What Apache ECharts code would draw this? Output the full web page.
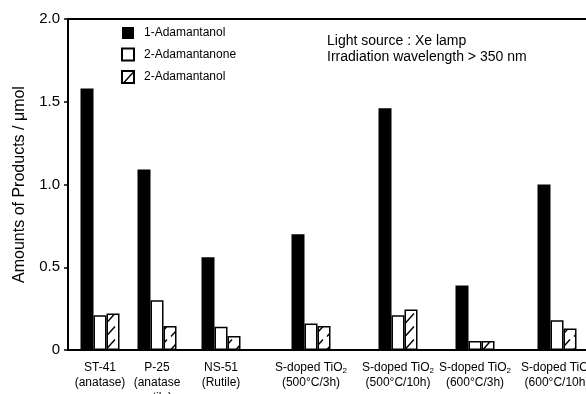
<!DOCTYPE html>
<html><head><meta charset="utf-8">
<script src="https://cdn.jsdelivr.net/npm/echarts@6/dist/echarts.min.js"></script>
<style>html,body{margin:0;padding:0;background:#fff}#c{width:586px;height:394px}</style>
</head><body><div id="c"></div>
<script>
// ---- data ----
const categories = [
  'ST-41\n(anatase)',
  'P-25\n(anatase\nrutile)',
  'NS-51\n(Rutile)',
  'S-doped TiO2\n(500°C/3h)',
  'S-doped TiO2\n(500°C/10h)',
  'S-doped TiO2\n(600°C/3h)',
  'S-doped TiO2\n(600°C/10h)'
];
const seriesNames = ['1-Adamantanol', '2-Adamantanone', '2-Adamantanol'];
const adamantanol1  = [1.58, 1.09, 0.56, 0.70, 1.46, 0.39, 1.00];
const adamantanone2 = [0.21, 0.30, 0.14, 0.16, 0.21, 0.055, 0.18];
const adamantanol2  = [0.22, 0.145, 0.085, 0.145, 0.245, 0.055, 0.13];
const yTicks = [0, 0.5, 1.0, 1.5, 2.0];
// position of each sample group along the (unlabelled) horizontal axis
const groupX = [32, 89, 153, 243, 330, 407, 489];

// ---- styles ----
const FONT = 'Liberation Sans';
function hatch() {
  const c = document.createElement('canvas');
  c.width = 13; c.height = 13;
  const g = c.getContext('2d');
  g.fillStyle = '#fff'; g.fillRect(0, 0, 13, 13);
  g.strokeStyle = '#000'; g.lineWidth = 1.4;
  g.beginPath(); g.moveTo(2, 11.5); g.lineTo(11, 1.5); g.stroke();
  return c;
}
const pairs = arr => arr.map((v, i) => [groupX[i], v]);

const chart = echarts.init(document.getElementById('c'), null, {renderer: 'canvas'});
chart.setOption({
  animation: false,
  backgroundColor: '#fff',
  textStyle: {fontFamily: FONT, color: '#000'},
  title: {
    text: 'Light source : Xe lamp\nIrradiation wavelength > 350 nm',
    left: 327, top: 33, padding: 0,
    textStyle: {fontFamily: FONT, fontSize: 14, fontWeight: 'normal', color: '#000', lineHeight: 16}
  },
  legend: {
    orient: 'vertical', left: 121, top: 27, padding: 0,
    itemWidth: 12, itemHeight: 12, itemGap: 8.5,
    icon: 'rect',
    textStyle: {fontFamily: FONT, fontSize: 12, color: '#000', lineHeight: 12, padding: [0, 0, 0, 5]},
    data: seriesNames
  },
  grid: {left: 68, width: 560, top: 19, height: 331, show: true, borderColor: '#000', borderWidth: 2,
         backgroundColor: 'transparent', containLabel: false, outerBoundsMode: 'none'},
  xAxis: {
    type: 'value', min: 0, max: 560,
    axisLine: {show: false}, axisTick: {show: false}, splitLine: {show: false},
    axisLabel: {
      customValues: groupX, margin: 10, fontFamily: FONT, fontSize: 12, lineHeight: 15, color: '#000',
      hideOverlap: false,
      formatter: v => {
        const i = groupX.indexOf(v);
        return i < 0 ? '' : categories[i].replace('TiO2', 'TiO{sub|2}');
      },
      rich: {sub: {fontSize: 8, lineHeight: 15, padding: [6, 0, 0, 0], fontFamily: FONT, color: '#000'}}
    }
  },
  yAxis: {
    type: 'value', min: 0, max: 2, interval: 0.5,
    name: 'Amounts of Products / μmol', nameLocation: 'middle', nameGap: 40,
    nameTextStyle: {fontFamily: FONT, fontSize: 16, color: '#000'},
    axisLine: {show: false},
    axisTick: {show: true, inside: false, length: 4, lineStyle: {color: '#000', width: 1.5}},
    splitLine: {show: false},
    axisLabel: {
      margin: 8, fontFamily: FONT, fontSize: 15, color: '#000',
      formatter: v => (yTicks.indexOf(v) >= 0 ? (v === 0 ? '0' : v.toFixed(1)) : '')
    }
  },
  series: [
    {name: seriesNames[0], type: 'bar', barWidth: 13, barGap: '0%', data: pairs(adamantanol1),
     itemStyle: {color: '#000', borderWidth: 0}},
    {name: seriesNames[1], type: 'bar', barWidth: 13, barGap: '0%', data: pairs(adamantanone2),
     itemStyle: {color: '#fff', borderColor: '#000', borderWidth: 1.5}},
    {name: seriesNames[2], type: 'bar', barWidth: 13, barGap: '0%', data: pairs(adamantanol2),
     itemStyle: {color: {image: hatch(), repeat: 'repeat'}, borderColor: '#000', borderWidth: 1.5}}
  ]
});
</script></body></html>
